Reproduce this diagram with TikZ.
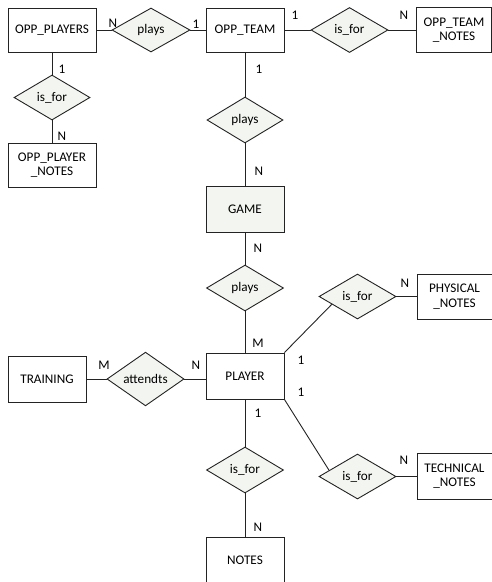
\documentclass[tikz,border=0pt]{standalone}
\usepackage{fontspec}
\setmainfont{Carlito}
\usetikzlibrary{shapes.geometric,calc}
\definecolor{dfill}{RGB}{243,246,240}
\definecolor{lcol}{RGB}{35,35,35}
\tikzset{
  ent/.style={draw=lcol,line width=0.9pt,fill=white,inner sep=0pt,align=center,font=\fontsize{13.2}{14.2}\selectfont},
  rel/.style={draw=lcol,line width=0.9pt,fill=dfill,diamond,inner sep=0pt,font=\fontsize{13.2}{14.2}\selectfont},
  conn/.style={draw=lcol,line width=0.9pt},
  card/.style={inner sep=0pt,font=\fontsize{13.2}{14.2}\selectfont}
}
\begin{document}
\begin{tikzpicture}[x=1pt,y=-1pt]
\useasboundingbox (0,0) rectangle (492,582);
% entities
\node[ent,minimum width=88pt,minimum height=44pt] (oppplayers) at (52,30) {OPP\_PLAYERS};
\node[ent,minimum width=78pt,minimum height=44pt] (oppteam) at (245,30) {OPP\_TEAM};
\node[ent,minimum width=75pt,minimum height=45pt] (oppteamnotes) at (454,30) {OPP\_TEAM\\\_NOTES};
\node[ent,minimum width=88pt,minimum height=44pt] (oppplayernotes) at (52,165) {OPP\_PLAYER\\\_NOTES};
\node[ent,minimum width=78pt,minimum height=46pt,fill=dfill] (game) at (245,209) {GAME};
\node[ent,minimum width=78pt,minimum height=46pt] (player) at (245,376) {PLAYER};
\node[ent,minimum width=75pt,minimum height=45pt] (physnotes) at (454.5,296.5) {PHYSICAL\\\_NOTES};
\node[ent,minimum width=78pt,minimum height=46pt] (training) at (47,379) {TRAINING};
\node[ent,minimum width=75pt,minimum height=46pt] (technotes) at (454.5,476) {TECHNICAL\\\_NOTES};
\node[ent,minimum width=78pt,minimum height=46pt] (notes) at (245,560) {NOTES};
% relationships
\node[rel,minimum width=78pt,minimum height=44pt] (plays1) at (151,30) {plays};
\node[rel,minimum width=77pt,minimum height=45pt] (isfor1) at (349.5,30) {is\_for};
\node[rel,minimum width=76pt,minimum height=45pt] (isfor2) at (52,97.5) {is\_for};
\node[rel,minimum width=76pt,minimum height=46pt] (plays2) at (245,120) {plays};
\node[rel,minimum width=77pt,minimum height=46pt] (plays3) at (245,288) {plays};
\node[rel,minimum width=77pt,minimum height=45pt] (physdia) at (357.5,296.5) {is\_for};
\node[rel,minimum width=77pt,minimum height=46pt] (attend) at (145.5,379) {attendts};
\node[rel,minimum width=77pt,minimum height=46pt] (isfor3) at (245,470) {is\_for};
\node[rel,minimum width=77pt,minimum height=45pt] (techdia) at (357.5,476.5) {is\_for};
% connectors
\draw[conn] (oppplayers.east) -- (plays1.west);
\draw[conn] (plays1.east) -- (oppteam.west);
\draw[conn] (oppteam.east) -- (isfor1.west);
\draw[conn] (isfor1.east) -- (oppteamnotes.west);
\draw[conn] (oppplayers.south) -- (isfor2.north);
\draw[conn] (isfor2.south) -- (oppplayernotes.north);
\draw[conn] (oppteam.south) -- (plays2.north);
\draw[conn] (plays2.south) -- (game.north);
\draw[conn] (game.south) -- (plays3.north);
\draw[conn] (plays3.south) -- (player.north);
\draw[conn] (player.north east) -- ($(physdia.west)!0.34!(physdia.south)$);
\draw[conn] (physdia.east) -- (physnotes.west |- physdia.east);
\draw[conn] (training.east) -- (attend.west);
\draw[conn] (attend.east) -- (player.west |- attend.east);
\draw[conn] (player.south) -- (isfor3.north);
\draw[conn] (isfor3.south) -- (notes.north);
\draw[conn] (player.south east) -- ($(techdia.west)!0.27!(techdia.north)$);
\draw[conn] (techdia.east) -- (technotes.west |- techdia.east);
% cardinalities
\node[card] (c1) at (113,23) {N};
\node[card] (c2) at (196,24) {1};
\node[card] (c3) at (295,15) {1};
\node[card] (c4) at (404,15) {N};
\node[card] (c5) at (62,69) {1};
\node[card] (c6) at (62,136) {N};
\node[card] (c7) at (259,69) {1};
\node[card] (c8) at (259,171) {N};
\node[card] (c9) at (258,248) {N};
\node[card] (c10) at (405,283) {N};
\node[card] (c11) at (258,343) {M};
\node[card] (c12) at (301,360) {1};
\node[card] (c13) at (301,392) {1};
\node[card] (c14) at (104,365) {M};
\node[card] (c15) at (196,365) {N};
\node[card] (c16) at (258,413) {1};
\node[card] (c17) at (258,527) {N};
\node[card] (c18) at (404,460) {N};
\end{tikzpicture}
\end{document}
